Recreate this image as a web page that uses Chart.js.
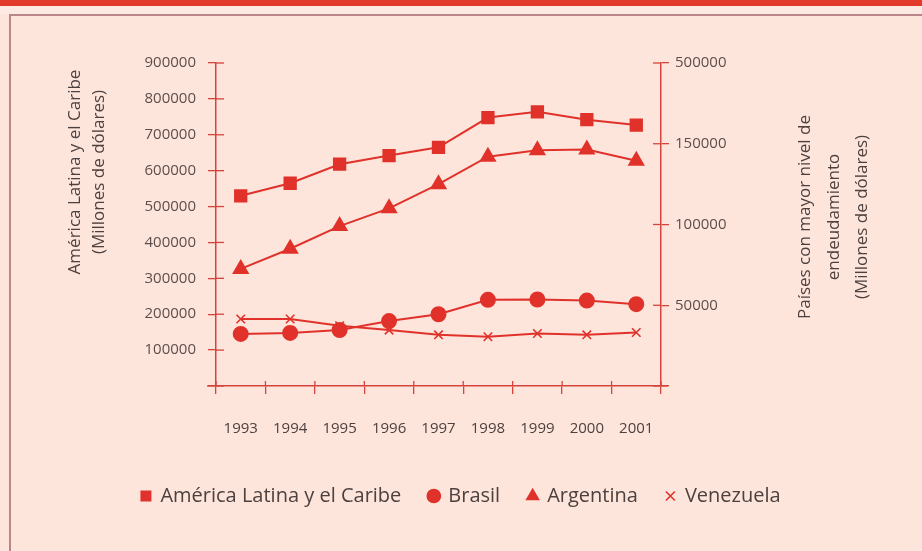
<!DOCTYPE html>
<html>
<head>
<meta charset="utf-8">
<script src="https://cdn.jsdelivr.net/npm/chart.js@4/dist/chart.umd.min.js"></script>
<style>
  html, body { margin: 0; padding: 0; background: #fde5dc; }
  #wrap { position: relative; width: 922px; height: 551px; overflow: hidden; background: #fde5dc; }
  #band { position: absolute; left: 0; top: 0; width: 922px; height: 6px; background: #e33b2b; }
  #strip { position: absolute; left: 0; top: 6px; width: 922px; height: 8px; background: #fdeae3; }
  #frame { position: absolute; left: 9px; top: 14px; width: 930px; height: 560px;
           border-left: 2px solid #b98787; border-top: 2px solid #b98787; }
  #chart { position: absolute; left: 0; top: 0; }
</style>
</head>
<body>
<div id="wrap">
  <div id="band"></div>
  <div id="strip"></div>
  <div id="frame"></div>
  <canvas id="chart" width="922" height="551"></canvas>
</div>
<script>
const years = ['1993', '1994', '1995', '1996', '1997', '1998', '1999', '2000', '2001'];

// left axis (Millones de dólares)
const americaLatina = [530000, 565000, 618000, 642000, 665000, 748000, 764000, 742000, 727000];
const brasil = [145000, 148000, 156000, 181000, 200000, 240000, 241000, 238000, 228000];

// right axis
const argentina = [72500, 85000, 99000, 110000, 125000, 142000, 146000, 146500, 139500];
const venezuela = [41500, 41500, 37300, 34600, 31700, 30500, 32500, 31700, 33100];

const leftTicks = ['100000', '200000', '300000', '400000', '500000', '600000', '700000', '800000', '900000'];
const rightTicks = ['50000', '100000', '150000', '500000'];

const RED = '#e0322a';
const AXIS = '#d5443c';
const TEXT = '#4d403e';
const FONT = '"Open Sans", Lato, sans-serif';

// axis titles + inward halves of the tick marks
const extras = {
    id: 'extras',
    afterDraw(chart) {
        const ctx = chart.ctx;
        const { y, y1, x } = chart.scales;
        const area = chart.chartArea;
        ctx.save();
        ctx.strokeStyle = AXIS;
        ctx.lineWidth = 1.3;
        y.ticks.forEach((t, i) => {
            const py = y.getPixelForTick(i);
            ctx.beginPath(); ctx.moveTo(y.right, py); ctx.lineTo(y.right + 8, py); ctx.stroke();
        });
        y1.ticks.forEach((t, i) => {
            const py = y1.getPixelForTick(i);
            ctx.beginPath(); ctx.moveTo(y1.left - 8, py); ctx.lineTo(y1.left, py); ctx.stroke();
        });
        const b = area.bottom;
        const step = x.width / years.length;
        for (let i = 0; i <= years.length; i++) {
            const px = area.left + i * step;
            ctx.beginPath(); ctx.moveTo(px, b - 5); ctx.lineTo(px, b); ctx.stroke();
        }
        ctx.beginPath(); ctx.moveTo(area.left - 9, b); ctx.lineTo(area.left, b); ctx.stroke();
        ctx.beginPath(); ctx.moveTo(area.right, b); ctx.lineTo(area.right + 7, b); ctx.stroke();

        ctx.fillStyle = TEXT;
        ctx.font = '17px ' + FONT;
        ctx.textAlign = 'center';
        ctx.textBaseline = 'middle';
        const drawRot = (lines, xs, cy) => {
            lines.forEach((s, i) => {
                ctx.save();
                ctx.translate(xs[i], cy);
                ctx.rotate(-Math.PI / 2);
                ctx.fillText(s, 0, 0);
                ctx.restore();
            });
        };
        drawRot(['América Latina y el Caribe', '(Millones de dólares)'], [75, 99], 172);
        drawRot(['Países con mayor nivel de', 'endeudamiento', '(Millones de dólares)'], [805, 834, 862], 217);
        ctx.restore();
    }
};

const ctx = document.getElementById('chart').getContext('2d');
const chart = new Chart(ctx, {
    type: 'line',
    data: {
        labels: years,
        datasets: [{
            label: 'América Latina y el Caribe',
            data: americaLatina,
            yAxisID: 'y',
            pointStyle: 'rect',
            pointRadius: 8
        }, {
            label: 'Brasil',
            data: brasil,
            yAxisID: 'y',
            pointStyle: 'circle',
            pointRadius: 7
        }, {
            label: 'Argentina',
            data: argentina,
            yAxisID: 'y1',
            pointStyle: 'triangle',
            pointRadius: 8
        }, {
            label: 'Venezuela',
            data: venezuela,
            yAxisID: 'y1',
            pointStyle: 'crossRot',
            pointRadius: 6,
            pointBorderWidth: 1.6
        }].map(d => Object.assign({
            borderColor: RED,
            backgroundColor: RED,
            pointBackgroundColor: RED,
            pointBorderColor: RED,
            pointBorderWidth: 2,
            borderWidth: 2,
            tension: 0
        }, d))
    },
    options: {
        responsive: false,
        animation: false,
        layout: { padding: { top: 63, left: 0, right: 0, bottom: 35 } },
        plugins: {
            tooltip: { enabled: false },
            legend: {
                position: 'bottom',
                labels: {
                    usePointStyle: true,
                    boxWidth: 9,
                    boxHeight: 9,
                    padding: 28,
                    color: TEXT,
                    font: { family: FONT, size: 20 }
                }
            }
        },
        scales: {
            x: {
                offset: true,
                grid: { offset: true, drawOnChartArea: false, color: AXIS, tickLength: 8, lineWidth: 1.3 },
                border: { color: AXIS, width: 1.5 },
                ticks: { color: TEXT, font: { family: FONT, size: 15 }, padding: 26, maxRotation: 0 },
                afterFit: s => { s.height = 72; }
            },
            y: {
                position: 'left',
                min: 0,
                max: 900000,
                grid: { drawOnChartArea: false, color: AXIS, tickLength: 8, lineWidth: 1.3 },
                border: { color: AXIS, width: 1.5 },
                ticks: {
                    stepSize: 100000,
                    color: '#5e4e4b',
                    padding: 12,
                    font: { family: FONT, size: 15 },
                    callback: (v) => v === 0 ? '' : leftTicks[v / 100000 - 1]
                },
                afterFit: s => { s.width = 216; }
            },
            y1: {
                position: 'right',
                min: 0,
                max: 200000,
                grid: { drawOnChartArea: false, color: AXIS, tickLength: 8, lineWidth: 1.3 },
                border: { color: AXIS, width: 1.5 },
                ticks: {
                    stepSize: 50000,
                    color: '#5e4e4b',
                    padding: 6,
                    font: { family: FONT, size: 15 },
                    callback: (v) => v === 0 ? '' : rightTicks[v / 50000 - 1]
                },
                afterFit: s => { s.width = 261; }
            }
        }
    },
    plugins: [extras]
});
</script>
</body>
</html>
